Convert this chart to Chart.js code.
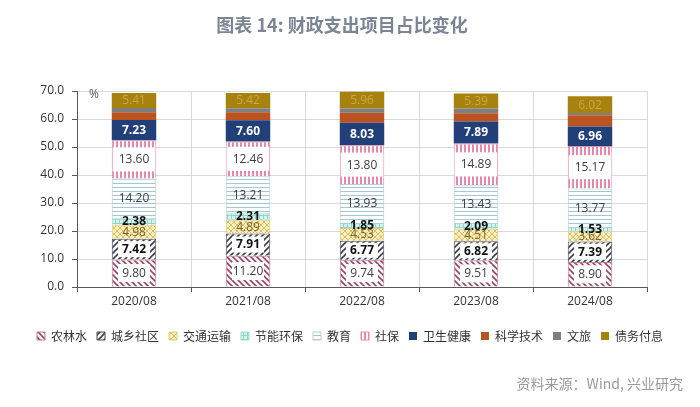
<!DOCTYPE html>
<html>
<head>
<meta charset="utf-8">
<script src="https://cdn.jsdelivr.net/npm/chart.js@4.4.1/dist/chart.umd.min.js"></script>
<style>
html, body { margin: 0; padding: 0; background: #fff; }
</style>
</head>
<body>
<canvas id="chart" width="700" height="407"></canvas>
<script>
// data (share of spending, %)
const categories = ['2020/08', '2021/08', '2022/08', '2023/08', '2024/08']
const agri      = [9.80, 11.20, 9.74, 9.51, 8.90]   // 农林水
const community = [7.42, 7.91, 6.77, 6.82, 7.39]    // 城乡社区
const transport = [4.98, 4.89, 4.53, 4.51, 3.62]    // 交通运输
const energy    = [2.38, 2.31, 1.85, 2.09, 1.53]    // 节能环保
const education = [14.20, 13.21, 13.93, 13.43, 13.77] // 教育
const social    = [13.60, 12.46, 13.80, 14.89, 15.17] // 社保
const health    = [7.23, 7.60, 8.03, 7.89, 6.96]    // 卫生健康
const science   = [2.8, 2.8, 3.6, 2.9, 4.0]         // 科学技术 (no label, estimated)
const tourism   = [1.5, 1.5, 1.5, 1.7, 0.8]         // 文旅 (no label, estimated)
const debt      = [5.41, 5.42, 5.96, 5.39, 6.02]    // 债务付息
const yTicks = [0, 10, 20, 30, 40, 50, 60, 70]

function makePattern(size, bg, draw) {
	const c = document.createElement('canvas')
	c.width = size; c.height = size
	const g = c.getContext('2d')
	if (bg) { g.fillStyle = bg; g.fillRect(0, 0, size, size) }
	draw(g, size)
	return g.createPattern(c, 'repeat')
}
function diag(g, s, color, w, back) { //back = "\" direction
	g.strokeStyle = color; g.lineWidth = w
	g.beginPath()
	if (back) {
		g.moveTo(-1, -1); g.lineTo(s + 1, s + 1)
		g.moveTo(-1, s - 1); g.lineTo(1, s + 1)
		g.moveTo(s - 1, -1); g.lineTo(s + 1, 1)
	} else {
		g.moveTo(-1, s + 1); g.lineTo(s + 1, -1)
		g.moveTo(-1, 1); g.lineTo(1, -1)
		g.moveTo(s - 1, s + 1); g.lineTo(s + 1, s - 1)
	}
	g.stroke()
}

const pAgri = makePattern(6, '#ffffff', (g, s) => diag(g, s, '#9b4668', 1.6, true))
const pCommunity = makePattern(6, '#ffffff', (g, s) => diag(g, s, '#3c3f4e', 1.6, false))
const pTransport = makePattern(6, '#fcefbd', (g, s) => { diag(g, s, '#d8bd6a', 1, true); diag(g, s, '#d8bd6a', 1, false) })
const pEnergy = makePattern(4, '#d4f3ed', (g, s) => { g.fillStyle = '#92d4ca'; g.fillRect(0, 3, s, 1); g.fillRect(3, 0, 1, s) })
const pEducation = makePattern(4, '#ffffff', (g, s) => { g.fillStyle = '#a9c5d5'; g.fillRect(0, 3, s, 1) })
const pSocial = makePattern(4, '#ffffff', (g, s) => { g.fillStyle = '#e389ae'; g.fillRect(0, 0, 2, s) })

// label styles per series; box = white box behind the number
const labelStyle = {
	0: { color: '#404040', weight: 'normal', box: [32, 18] },
	1: { color: '#111111', weight: 'bold', box: [32, 16] },
	2: { color: '#7a6428', weight: 'normal' },
	3: { color: '#111111', weight: 'bold' },
	4: { color: '#404040', weight: 'normal' },
	5: { color: '#404040', weight: 'normal', box: [-2, 24] },
	6: { color: '#ffffff', weight: 'bold' },
	9: { color: '#c9a646', weight: 'normal' },
}

const barLabels = {
	id: 'barLabels',
	afterDatasetsDraw(chart) {
		const ctx = chart.ctx
		ctx.save()
		ctx.textAlign = 'center'
		ctx.textBaseline = 'middle'
		chart.data.datasets.forEach((ds, i) => {
			const st = labelStyle[i]
			if (!st) return
			chart.getDatasetMeta(i).data.forEach((bar, j) => {
				const p = bar.getProps(['x', 'y', 'base', 'width'], true)
				const cy = (p.y + p.base) / 2
				if (st.box) {
					const bw = st.box[0] > 0 ? st.box[0] : p.width + st.box[0] * 2 + 2
					const bh = Math.min(st.box[1], Math.abs(p.base - p.y) - 4)
					ctx.fillStyle = '#ffffff'
					ctx.fillRect(p.x - bw / 2, cy - bh / 2, bw, bh)
				}
				ctx.fillStyle = st.color
				ctx.font = st.weight + ' 12px "Open Sans"'
				ctx.fillText(ds.data[j].toFixed(2), p.x, cy + 0.5)
			})
		})
		ctx.restore()
	}
}

const extraText = {
	id: 'extraText',
	afterDraw(chart) {
		const ctx = chart.ctx
		const a = chart.chartArea
		ctx.save()
		ctx.textBaseline = 'middle'
		ctx.fillStyle = '#7b8594'
		ctx.font = 'bold 18px "Noto Sans CJK SC"'
		ctx.textAlign = 'center'
		ctx.fillText('图表 14: 财政支出项目占比变化', 342, 25)
		ctx.fillStyle = '#555555'
		ctx.font = '12px "Open Sans"'
		ctx.fillText('%', 94, a.top + 4)
		ctx.fillStyle = '#9a9a9a'
		ctx.font = '14px "Noto Sans CJK SC"'
		ctx.textAlign = 'right'
		ctx.fillText('资料来源：Wind, 兴业研究', 683, 384)
		ctx.restore()
	}
}

function ds(label, data, bg, border) {
	return { label, data, backgroundColor: bg, borderColor: border || bg, borderWidth: border ? 1 : 0 }
}

new Chart(document.getElementById('chart'), {
	type: 'bar',
	data: {
		labels: categories,
		datasets: [
			ds('农林水', agri, pAgri, '#c27898'),
			ds('城乡社区', community, pCommunity, '#4a4d5c'),
			ds('交通运输', transport, pTransport, '#e2cc80'),
			ds('节能环保', energy, pEnergy, '#9bd8cf'),
			ds('教育', education, pEducation, '#b5cddb'),
			ds('社保', social, pSocial, '#e389ae'),
			ds('卫生健康', health, '#21407a'),
			ds('科学技术', science, '#bb5320'),
			ds('文旅', tourism, '#7f7f7f'),
			ds('债务付息', debt, '#a8820e'),
		]
	},
	options: {
		responsive: false,
		animation: false,
		layout: { padding: { top: 91, right: 0, bottom: 55, left: 0 } },
		datasets: { bar: { categoryPercentage: 0.39, barPercentage: 1 } },
		scales: {
			x: {
				stacked: true,
				grid: { color: '#d9d9d9', tickColor: '#595959', tickLength: 5, offset: true },
				border: { color: '#595959' },
				ticks: { color: '#333333', font: { family: 'Open Sans', size: 12 }, padding: 2 },
				afterFit(scale) { scale.height = 33 }
			},
			y: {
				stacked: true,
				min: 0, max: 70,
				afterBuildTicks(scale) { scale.ticks = yTicks.map(v => ({ value: v })) },
				grid: { color: '#d9d9d9', tickColor: '#595959', tickLength: 5 },
				border: { color: '#595959' },
				ticks: { color: '#333333', font: { family: 'Open Sans', size: 12 }, padding: 8, callback: v => v.toFixed(1) },
				afterFit(scale) { scale.width = 77 }
			},
			// empty right-hand spacer so the plot ends where the reference does
			spacer: {
				position: 'right',
				min: 0, max: 70,
				grid: { display: false },
				border: { display: false },
				ticks: { display: false },
				afterFit(scale) { scale.width = 53 }
			}
		},
		plugins: {
			legend: {
				position: 'bottom',
				labels: { boxWidth: 8, boxHeight: 8, padding: 10, color: '#333333', font: { family: 'Noto Sans CJK SC', size: 12 } }
			},
			tooltip: { enabled: false }
		}
	},
	plugins: [barLabels, extraText]
})
</script>
</body>
</html>
